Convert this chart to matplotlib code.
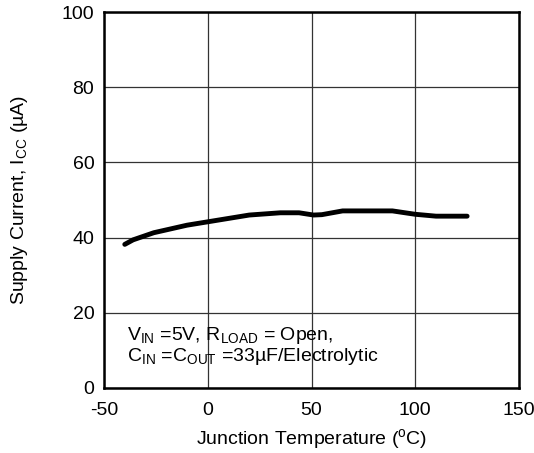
import matplotlib.pyplot as plt

plt.rcParams["font.family"] = ["Liberation Sans", "DejaVu Sans"]
plt.rcParams["mathtext.fontset"] = "custom"
plt.rcParams["mathtext.rm"] = "Liberation Sans"
plt.rcParams["mathtext.it"] = "Liberation Sans"
plt.rcParams["axes.unicode_minus"] = False

# Supply current vs junction temperature
temp_c = [-40, -36, -26, -10, 0, 20, 35, 44, 51, 55, 65, 89, 100, 110, 125]
icc_ua = [38.2, 39.4, 41.3, 43.3, 44.2, 46.0, 46.6, 46.6, 46.0, 46.1, 47.1, 47.1, 46.2, 45.7, 45.7]

x_ticks = [-50, 0, 50, 100, 150]
y_ticks = [0, 20, 40, 60, 80, 100]

conditions = ("V$_{\\mathrm{IN}}$ =5V, R$_{\\mathrm{LOAD}}$ = Open,\n"
              "C$_{\\mathrm{IN}}$ =C$_{\\mathrm{OUT}}$ =33\u00b5F/Electrolytic")

fig = plt.figure(figsize=(5.34, 4.53), dpi=100)
ax = fig.add_axes([0.1948, 0.1435, 0.7771, 0.830])

ax.plot(temp_c, icc_ua, color="black", linewidth=3.5, solid_capstyle="round")

ax.set_xlim(-50, 150)
ax.set_ylim(0, 100)
ax.set_xticks(x_ticks)
ax.set_yticks(y_ticks)
ax.grid(True, color="#333333", linewidth=0.9)
ax.set_axisbelow(True)
ax.tick_params(length=0, labelsize=14, pad=7)
ax.tick_params(axis="x", pad=10)
for s in ax.spines.values():
    s.set_linewidth(1.8)

ax.set_xlabel("Junction Temperature ($^{\\mathrm{o}}$C)", fontsize=14, labelpad=6)
ax.set_ylabel("Supply Current, I$_{\\mathrm{CC}}$ (\u00b5A)", fontsize=14, labelpad=23)

# baseline alignment of a two-line text puts the last line on y
ax.text(-38.9, 7.3, conditions, fontsize=14, va="baseline", linespacing=0.95)

fig.savefig("out.png", dpi=100)
